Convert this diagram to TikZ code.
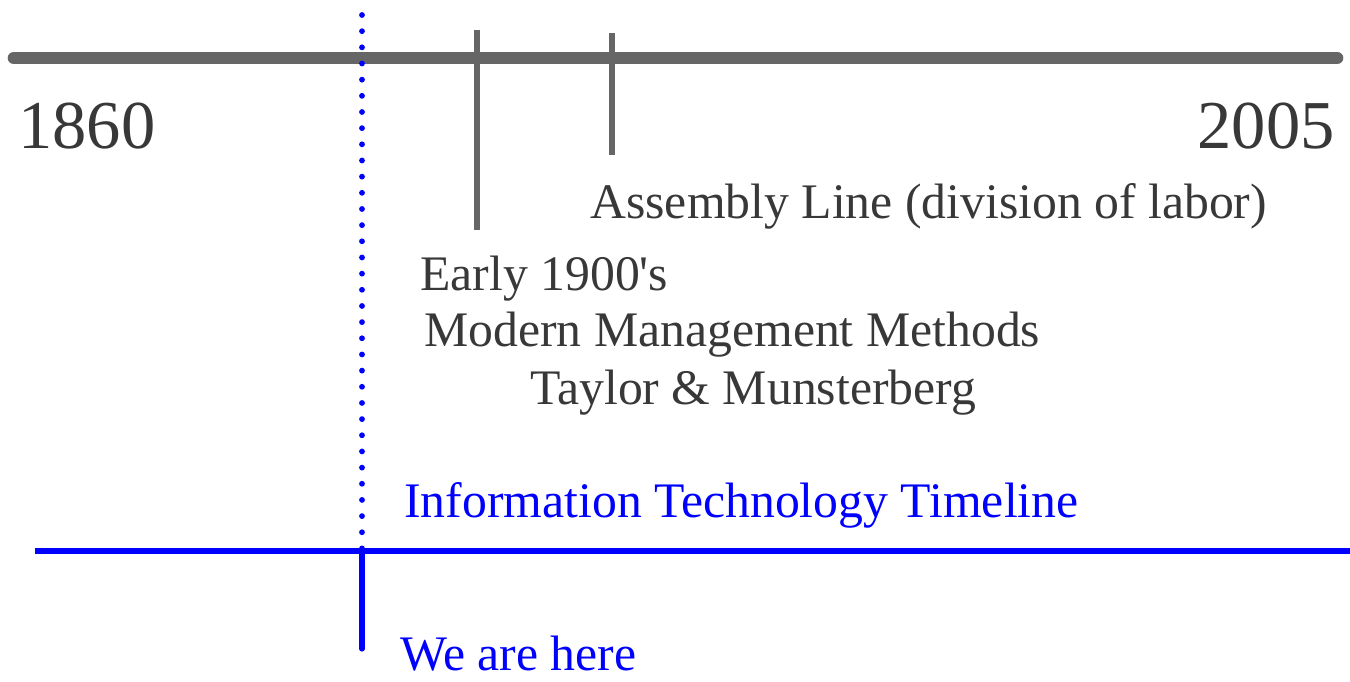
\documentclass[tikz,border=0pt]{standalone}
\usepackage{fontspec}
\setmainfont{Liberation Serif}
\usepackage{tikz}
\usetikzlibrary{%
        positioning,
    }
\definecolor{axisgray}{HTML}{666666}
\definecolor{textgray}{HTML}{383838}
\definecolor{itblue}{HTML}{0000FF}
\tikzset{%
    year/.style={%
        inner sep=0,
        text=textgray,
        font=\fontsize{39}{44}\selectfont,
    },
    event/.style={%
        anchor=base west,
        inner sep=0,
        text=textgray,
        font=\fontsize{28.3}{33}\selectfont,
    },
    itlabel/.style={%
        event,
        text=itblue,
    },
    mainaxis/.style={%
        line width=7.2pt,
        draw=axisgray,
        line cap=round,
    },
    eventtick/.style={%
        line width=3pt,
        draw=axisgray,
    },
    itaxis/.style={%
        line width=2.9pt,
        draw=itblue,
    },
    nowline/.style={%
        line width=3.3pt,
        draw=itblue,
        line cap=round,
        dash pattern=on 0pt off 9.2pt,
    },
}

\begin{document}
\begin{tikzpicture}[x=0.02cm, y=-0.02cm]

    \useasboundingbox (0, 0) rectangle (1350, 681);

    %%%%%%%%%%%%%%%%%
    % Main timeline %
    %%%%%%%%%%%%%%%%%
    \coordinate (axis-start) at (14, 58);
    \coordinate (axis-end) at (1337, 58);
    \draw[mainaxis] (axis-start) -- (axis-end);

    \node[year, anchor=base west] (year-start) at (18, 148) {1860};
    \node[year, anchor=base east] (year-end) at (1335, 148) {2005};

    % Ticks
    \foreach \name/\x/\top/\bottom in {%
        early/477/30/230, assembly/612/33/155%
    }{%
        \coordinate (\name-top) at (\x, \top);
        \coordinate (\name-bottom) at (\x, \bottom);
        \draw[eventtick] (\name-top) -- (\name-bottom);
    };

    \node[event] (assembly) at (590, 218)
        {Assembly Line (division of labor)};
    \node[event] (early) at (420, 290) {Early 1900\textquotesingle s};
    \node[event] (modern) at (424, 346) {Modern Management Methods};
    \node[event] (taylor) at (530, 404) {Taylor \& Munsterberg};

    %%%%%%%%%%%%%%%%%
    % IT timeline   %
    %%%%%%%%%%%%%%%%%
    \coordinate (now-top) at (362, 15);
    \coordinate (now-axis) at (362, 551);
    \coordinate (now-bottom) at (362, 649);
    \coordinate (it-start) at (35, 551);
    \coordinate (it-end) at (1350, 551);

    \draw[nowline] (now-top) -- (now-axis);
    \draw[itaxis] (it-start) -- (it-end);
    \draw[itaxis, line cap=round] (now-axis) -- (now-bottom);

    \node[itlabel] (it-title) at (404, 517)
        {Information Technology Timeline};
    \node[itlabel] (here) at (400, 670) {We are here};

\end{tikzpicture}
\end{document}
